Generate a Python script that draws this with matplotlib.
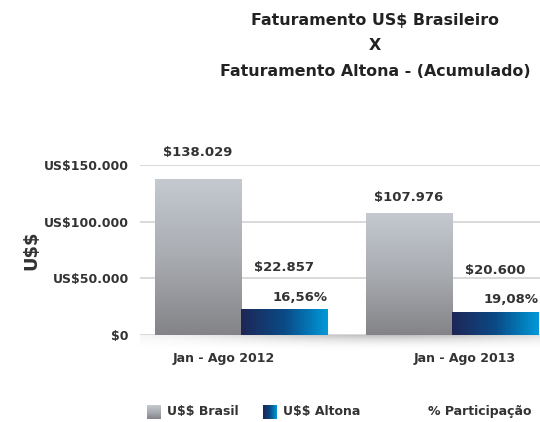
import numpy as np
import matplotlib
matplotlib.use('Agg')
import matplotlib.pyplot as plt
from matplotlib.colors import LinearSegmentedColormap

# data
periodos = ['Jan - Ago 2012', 'Jan - Ago 2013']
brasil = [138029, 107976]
altona = [22857, 20600]
yticks = [0, 50000, 100000, 150000]
ytick_labels = ['$0', 'US$50.000', 'US$100.000', 'US$150.000']
titulo = ['Faturamento US$ Brasileiro', 'X', 'Faturamento Altona - (Acumulado)']

txt = '#333333'
cm_brasil = LinearSegmentedColormap.from_list('br', ['#c4cad0', '#a9acb1', '#848488'])
cm_altona = LinearSegmentedColormap.from_list('al', ['#1f2656', '#0a4a86', '#0099d9'])

plt.rcParams['font.family'] = ['DejaVu Sans']
plt.rcParams['text.parse_math'] = False
fig = plt.figure(figsize=(5.4, 4.22), dpi=100)

# soft shadow below the baseline
sh = fig.add_axes([140/540, 1-352/422, 400/540, 17/422])
yy = np.linspace(1, 0, 40)[:, None] ** 2.2
xx = np.exp(-((np.linspace(-1, 1, 200)[None, :] - 0.25) / 0.9) ** 2)
rgba = np.zeros((40, 200, 4))
rgba[..., :3] = 0.55
rgba[..., 3] = 0.55 * yy * xx
sh.imshow(rgba, aspect='auto', extent=(0, 1, 0, 1))
sh.axis('off')

ax = fig.add_axes([140/540, 1-335/422, 400/540, 170/422])
x = np.arange(len(periodos))
w = 0.41
grad_v = np.linspace(0, 1, 256)[:, None]
grad_h = np.linspace(0, 1, 256)[None, :]

b1 = ax.bar(x - w/2, brasil, w, color='none', zorder=2)
b2 = ax.bar(x + w/2, altona, w, color='none', zorder=2)
for rect in b1:
    x0, y0, bw, bh = rect.get_x(), rect.get_y(), rect.get_width(), rect.get_height()
    im = ax.imshow(grad_v, cmap=cm_brasil, aspect='auto', extent=(x0, x0+bw, y0, y0+bh), zorder=2)
    im.set_clip_path(rect)
for rect in b2:
    x0, y0, bw, bh = rect.get_x(), rect.get_y(), rect.get_width(), rect.get_height()
    im = ax.imshow(grad_h, cmap=cm_altona, aspect='auto', extent=(x0, x0+bw, y0, y0+bh), zorder=2)
    im.set_clip_path(rect)

for i in range(len(periodos)):
    ax.annotate('$' + format(brasil[i], ',').replace(',', '.'), (x[i] - w/2, brasil[i]),
                xytext=(0, 14 if i == 0 else 6), textcoords='offset points', ha='center', va='bottom',
                fontsize=9.5, fontweight='bold', color=txt, annotation_clip=False)
    ax.annotate('$' + format(altona[i], ',').replace(',', '.'), (x[i] + w/2, altona[i]),
                xytext=(0, 25), textcoords='offset points', ha='center', va='bottom',
                fontsize=9.5, fontweight='bold', color=txt, annotation_clip=False)
    pct = '%.2f%%' % (100.0 * altona[i] / brasil[i])
    ax.annotate(pct.replace('.', ','), (x[i] + w, altona[i]),
                xytext=(0, 4), textcoords='offset points', ha='right', va='bottom',
                fontsize=9.5, fontweight='bold', color=txt, annotation_clip=False)

ax.set_xlim(-0.479, 1.417)
ax.set_ylim(0, 150000)
ax.set_yticks(yticks)
ax.set_yticklabels(ytick_labels, fontsize=9, fontweight='bold', color=txt)
ax.set_xticks(x + np.array([-0.08, 0.06]))
ax.set_xticklabels(periodos, fontsize=9, fontweight='bold', color=txt)
ax.tick_params(axis='y', length=0, pad=8)
ax.tick_params(axis='x', length=0, pad=12)
ax.grid(axis='y', color='#cfcfcf', linewidth=1.1, zorder=0)
ax.set_axisbelow(True)
for s in ax.spines.values():
    s.set_visible(False)
ax.patch.set_alpha(0)
ax.set_ylabel('U$$', fontsize=13, fontweight='bold', color=txt)
ax.yaxis.set_label_coords(-0.25, 0.5)

for k, linha in enumerate(titulo):
    fig.text(375/540, 1-(20 + 26*k)/422, linha, ha='center', va='center', fontsize=11.4,
             fontweight='bold', color='#222222')

# legend
for lx, cm, g, lab in [(147, cm_brasil, grad_v, 'U$$ Brasil'), (263, cm_altona, grad_h, 'U$$ Altona')]:
    la = fig.add_axes([lx/540, 1-419/422, 14/540, 14/422])
    la.imshow(g, cmap=cm, aspect='auto')
    la.axis('off')
    fig.text((lx + 20)/540, 1-412/422, lab, ha='left', va='center', fontsize=9, fontweight='bold', color=txt)
fig.text(428/540, 1-412/422, '% Participação', ha='left', va='center', fontsize=9, fontweight='bold', color=txt)

fig.savefig('out.png', dpi=100)
